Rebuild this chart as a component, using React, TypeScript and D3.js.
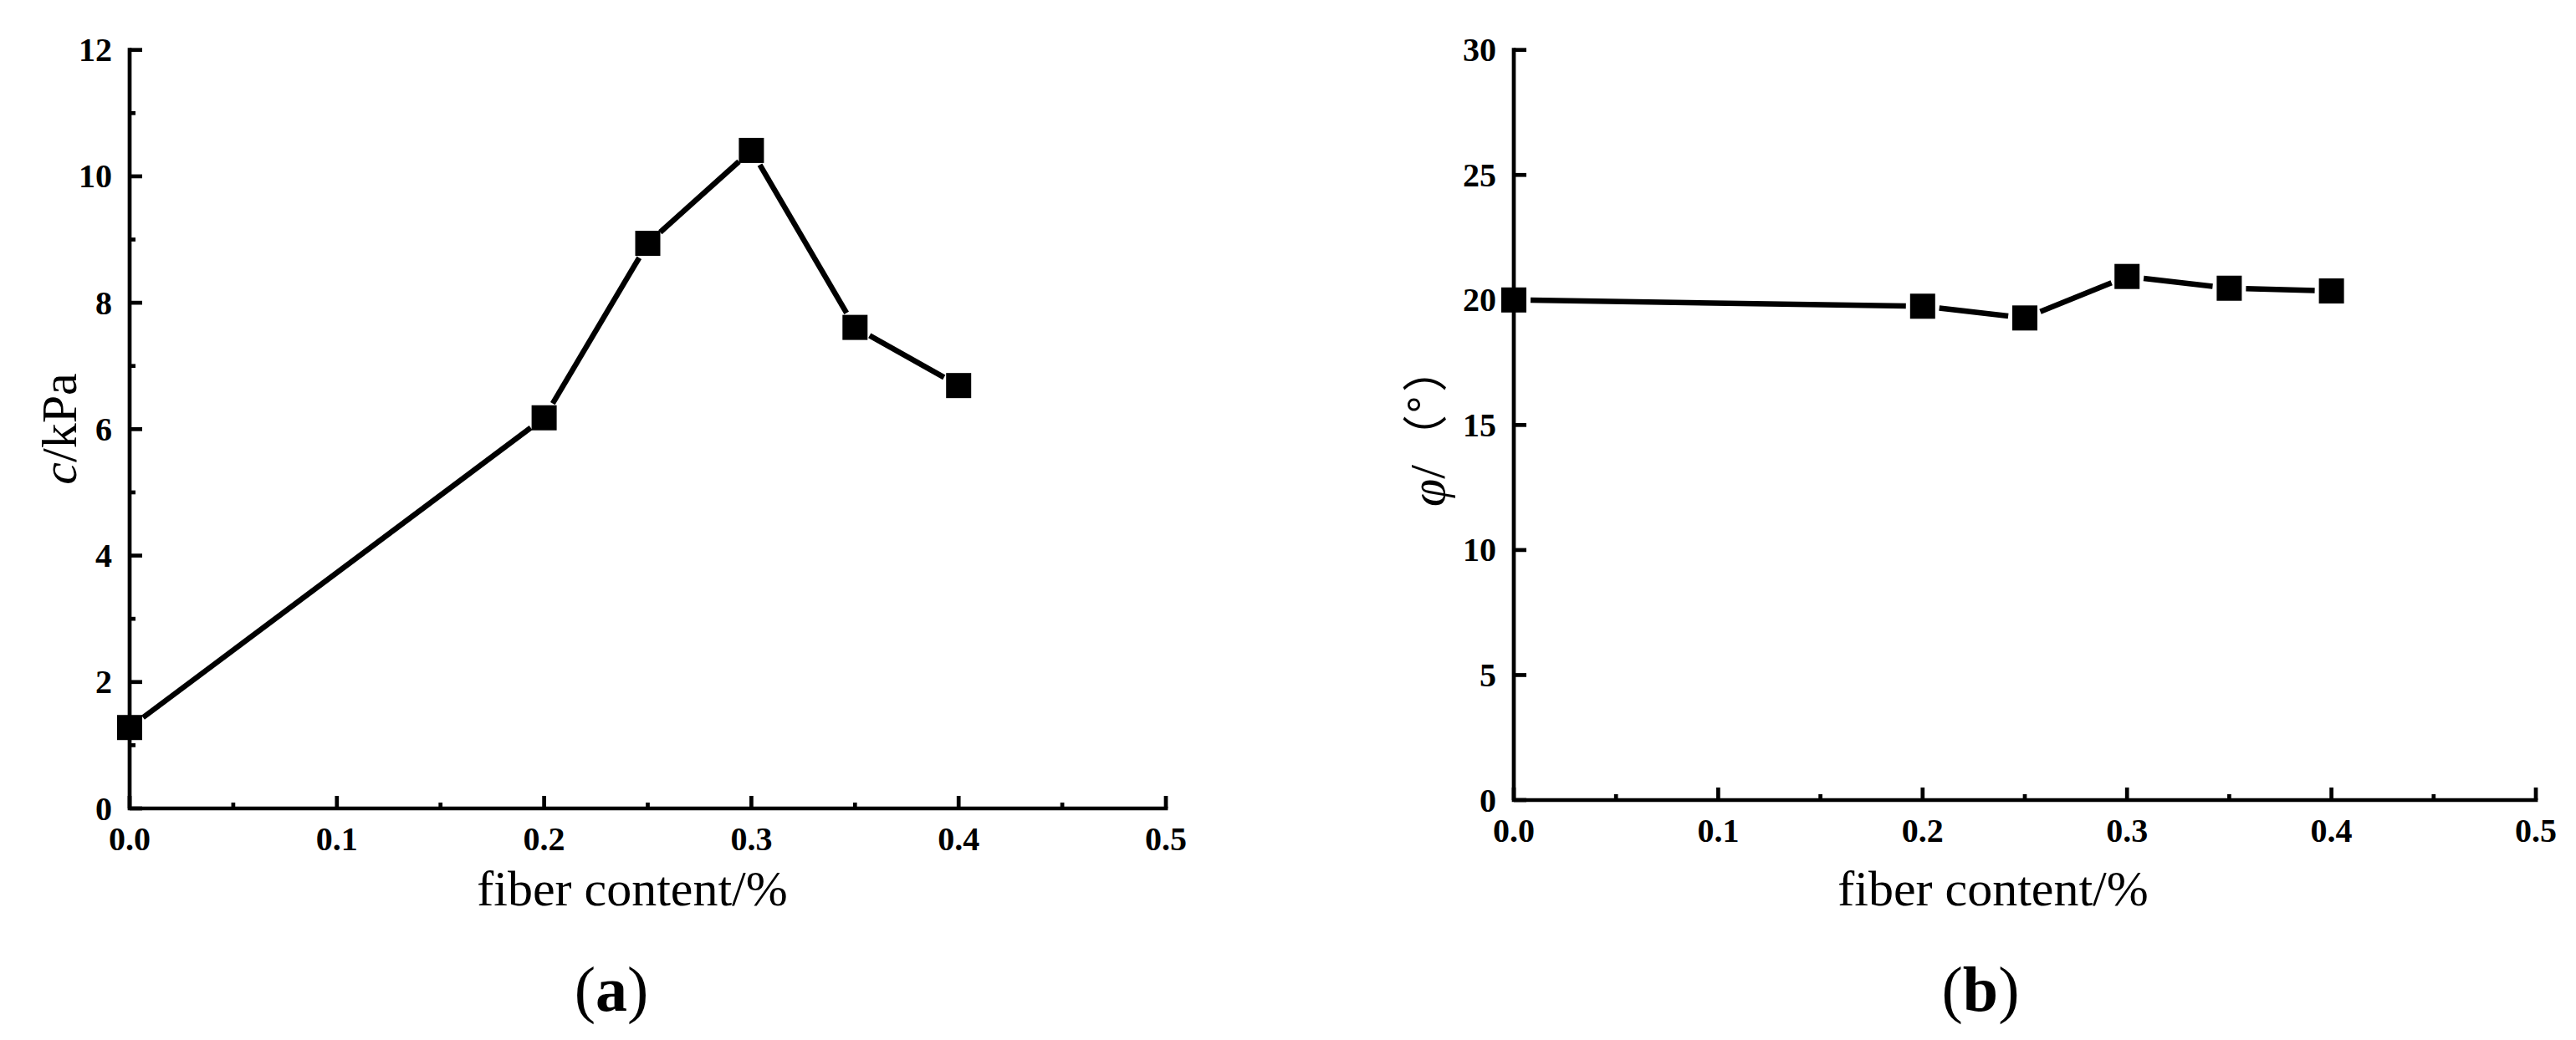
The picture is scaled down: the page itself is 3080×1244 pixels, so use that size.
import React from "react";
import * as d3 from "d3";

const fiberContent = [0.0, 0.2, 0.25, 0.3, 0.35, 0.4];
const cohesion = [1.28, 6.18, 8.94, 10.41, 7.61, 6.69];
const frictionAngle = [20.0, 19.75, 19.28, 20.94, 20.47, 20.36];

const xTicks = [0, 0.1, 0.2, 0.3, 0.4, 0.5];
const xMinorTicks = [0.05, 0.15, 0.25, 0.35, 0.45];
const cTicks = [0, 2, 4, 6, 8, 10, 12];
const cMinorTicks = [1, 3, 5, 7, 9, 11];
const phiTicks = [0, 5, 10, 15, 20, 25, 30];
const phiMinorTicks: number[] = [];

const SERIF = "'Liberation Serif', 'Times New Roman', serif";
const CJK = "'Noto Sans CJK SC', 'Noto Sans CJK JP', sans-serif";

type PanelProps = {
  x0: number;
  x1: number;
  yBottom: number;
  yTop: number;
  yMax: number;
  values: number[];
  yTicks: number[];
  yMinor: number[];
  xTitleX: number;
  captionX: number;
  caption: string;
  yTitle: React.ReactNode;
};

function Panel(p: PanelProps) {
  const x = d3.scaleLinear().domain([0, 0.5]).range([p.x0, p.x1]);
  const y = d3.scaleLinear().domain([0, p.yMax]).range([p.yBottom, p.yTop]);
  const fx = d3.format(".1f");
  const aw = 4.7;
  const major = 15;
  const minor = 7;
  const pts = fiberContent.map((f, i) => [x(f), y(p.values[i])] as [number, number]);
  const gap = 20;
  const segs: [number, number, number, number][] = [];
  for (let i = 0; i < pts.length - 1; i++) {
    const [ax, ay] = pts[i];
    const [bx, by] = pts[i + 1];
    const dx = bx - ax;
    const dy = by - ay;
    const len = Math.hypot(dx, dy);
    if (len <= 2 * gap) continue;
    const ux = dx / len;
    const uy = dy / len;
    segs.push([ax + ux * gap, ay + uy * gap, bx - ux * gap, by - uy * gap]);
  }
  const ms = 30;
  return (
    <g>
      <path
        d={`M${x(0)},${y(p.yMax)} L${x(0)},${y(0)} L${x(0.5)},${y(0)}`}
        fill="none"
        stroke="#000"
        strokeWidth={aw}
        strokeLinecap="square"
        strokeLinejoin="miter"
      />
      {p.yTicks.map((t) => (
        <line key={"ym" + t} x1={x(0)} x2={x(0) + major} y1={y(t)} y2={y(t)} stroke="#000" strokeWidth={aw} />
      ))}
      {p.yMinor.map((t) => (
        <line key={"yn" + t} x1={x(0)} x2={x(0) + minor} y1={y(t)} y2={y(t)} stroke="#000" strokeWidth={aw} />
      ))}
      {xTicks.map((t) => (
        <line key={"xm" + t} x1={x(t)} x2={x(t)} y1={y(0)} y2={y(0) - major} stroke="#000" strokeWidth={aw} />
      ))}
      {xMinorTicks.map((t) => (
        <line key={"xn" + t} x1={x(t)} x2={x(t)} y1={y(0)} y2={y(0) - minor} stroke="#000" strokeWidth={aw} />
      ))}
      {p.yTicks.map((t) => (
        <text
          key={"yl" + t}
          x={x(0) - 21}
          y={y(t) + 13.5}
          textAnchor="end"
          fontFamily={SERIF}
          fontWeight="bold"
          fontSize={40}
        >
          {t}
        </text>
      ))}
      {xTicks.map((t) => (
        <text
          key={"xl" + t}
          x={x(t)}
          y={y(0) + 50}
          textAnchor="middle"
          fontFamily={SERIF}
          fontWeight="bold"
          fontSize={40}
        >
          {fx(t)}
        </text>
      ))}
      {segs.map((s, i) => (
        <line key={"s" + i} x1={s[0]} y1={s[1]} x2={s[2]} y2={s[3]} stroke="#000" strokeWidth={6.5} />
      ))}
      {pts.map((q, i) => (
        <rect key={"m" + i} x={q[0] - ms / 2} y={q[1] - ms / 2} width={ms} height={ms} fill="#000" />
      ))}
      <text x={p.xTitleX} y={1083} textAnchor="middle" fontFamily={SERIF} fontSize={60}>
        fiber content/%
      </text>
      <text x={p.captionX} y={1209} textAnchor="middle" fontFamily={SERIF} fontSize={76}>
        (<tspan fontWeight="bold">{p.caption}</tspan>)
      </text>
      {p.yTitle}
    </g>
  );
}

export default function App() {
  React.useEffect(() => {
    document.body.style.margin = "0";
  }, []);
  return (
    <div style={{ position: "absolute", left: 0, top: 0 }}>
      <svg width={3080} height={1244} style={{ display: "block", background: "#fff" }}>
        <rect x={0} y={0} width={3080} height={1244} fill="#fff" />
        <Panel
          x0={155}
          x1={1394}
          yBottom={967}
          yTop={59.7}
          yMax={12}
          values={cohesion}
          yTicks={cTicks}
          yMinor={cMinorTicks}
          xTitleX={756}
          captionX={731}
          caption="a"
          yTitle={
            <text
              transform="translate(91,513) rotate(-90)"
              textAnchor="middle"
              fontFamily={SERIF}
              fontSize={60}
            >
              <tspan fontStyle="italic">c</tspan>/kPa
            </text>
          }
        />
        <Panel
          x0={1810}
          x1={3032}
          yBottom={957}
          yTop={59.7}
          yMax={30}
          values={frictionAngle}
          yTicks={phiTicks}
          yMinor={phiMinorTicks}
          xTitleX={2383}
          captionX={2368}
          caption="b"
          yTitle={
            <g transform="translate(1727,607) rotate(-90)">
              <text x={1} y={0} textAnchor="start" fontFamily={SERIF} fontSize={60}>
                <tspan fontStyle="italic">φ</tspan>/
              </text>
              <text x={84} y={-3} textAnchor="middle" fontFamily={CJK} fontSize={54}>
                （
              </text>
              <text x={123} y={-3} textAnchor="middle" fontFamily={CJK} fontSize={54}>
                °
              </text>
              <text x={165} y={-3} textAnchor="middle" fontFamily={CJK} fontSize={54}>
                ）
              </text>
            </g>
          }
        />
      </svg>
    </div>
  );
}
